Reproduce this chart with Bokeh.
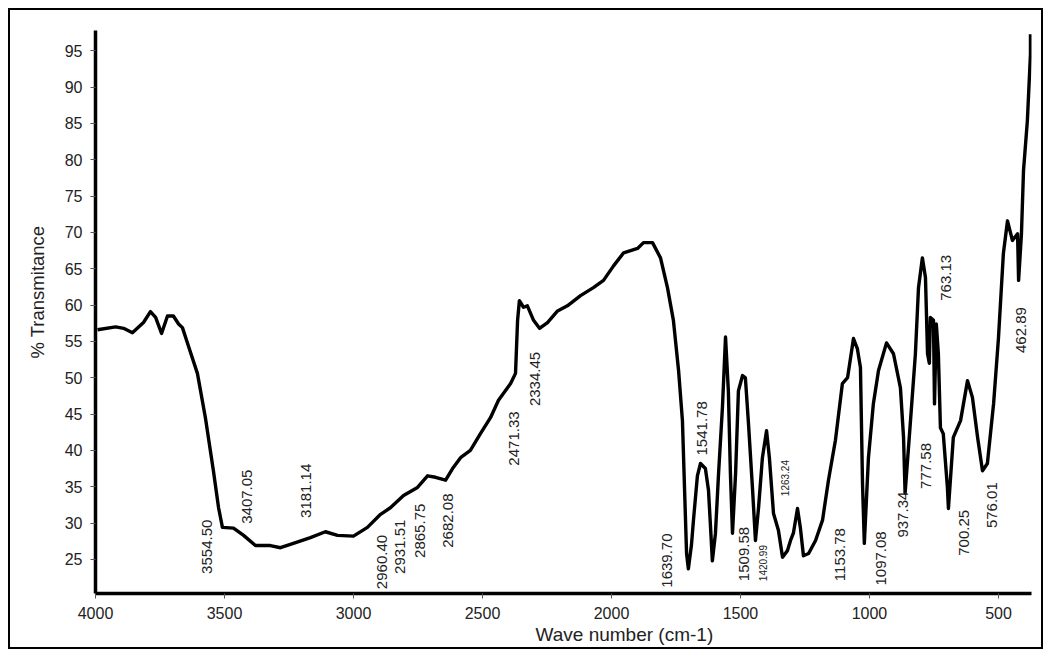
import math
from bokeh.plotting import figure
from bokeh.models import Range1d, FixedTicker, ColumnDataSource, Title
from bokeh.core.properties import value
from bokeh.embed import file_html
from bokeh.resources import INLINE

# ---- data ----
wavenumber = [3992, 3922, 3891, 3857, 3814, 3787, 3767, 3744, 3721, 3698, 3678, 3663,
              3643, 3605, 3574, 3543, 3523, 3508, 3465, 3426, 3380, 3322, 3283, 3233,
              3167, 3109, 3062, 3000, 2946, 2895, 2857, 2806, 2752, 2713, 2682, 2643,
              2616, 2585, 2547, 2508, 2469, 2438, 2391, 2372, 2364, 2357, 2341, 2326,
              2302, 2279, 2248, 2209, 2171, 2120, 2070, 2031, 1992, 1953, 1899, 1876,
              1841, 1810, 1783, 1760, 1740, 1725, 1717, 1709, 1702, 1690, 1682, 1667,
              1655, 1636, 1624, 1616, 1609, 1597, 1585, 1570, 1558, 1547, 1539, 1531,
              1519, 1508, 1492, 1481, 1469, 1453, 1442, 1430, 1415, 1399, 1388, 1372,
              1353, 1337, 1318, 1306, 1295, 1279, 1268, 1256, 1236, 1209, 1182, 1159,
              1132, 1105, 1085, 1062, 1047, 1035, 1027, 1020, 1004, 985, 965, 934,
              907, 880, 868, 862, 841, 822, 810, 795, 783, 775, 768, 764,
              752, 748, 741, 733, 725, 714, 698, 694, 675, 647, 620, 601,
              581, 562, 543, 519, 500, 481, 465, 446, 426, 422, 411, 403,
              388, 376, 376]
transmittance = [56.6, 57.0, 56.8, 56.2, 57.6, 59.1, 58.3, 56.1, 58.5, 58.5, 57.4, 56.9,
                 54.7, 50.6, 44.5, 37.2, 32.1, 29.4, 29.3, 28.3, 26.9, 26.9, 26.6, 27.2,
                 28.0, 28.8, 28.3, 28.2, 29.4, 31.2, 32.1, 33.8, 34.9, 36.5, 36.3, 35.9,
                 37.5, 39.0, 40.0, 42.3, 44.5, 46.9, 49.2, 50.6, 57.9, 60.6, 59.7, 59.9,
                 57.9, 56.8, 57.6, 59.2, 59.9, 61.3, 62.4, 63.4, 65.4, 67.2, 67.8, 68.6,
                 68.6, 66.5, 62.4, 57.9, 51.0, 44.1, 34.9, 25.8, 23.7, 27.0, 30.5, 36.5,
                 38.2, 37.5, 34.5, 29.4, 24.8, 28.6, 36.8, 45.9, 55.6, 48.2, 36.8, 28.6,
                 36.8, 48.2, 50.3, 50.0, 43.7, 34.5, 27.6, 32.1, 39.0, 42.7, 39.0, 31.3,
                 29.0, 25.3, 26.2, 27.6, 28.6, 32.0, 29.4, 25.5, 25.8, 27.6, 30.4, 35.9,
                 41.4, 49.2, 50.0, 55.4, 54.0, 51.4, 35.4, 27.2, 39.0, 46.4, 51.0, 54.8,
                 53.3, 48.6, 41.8, 34.1, 44.1, 53.3, 62.4, 66.5, 63.8, 53.3, 52.0, 58.3,
                 57.9, 46.4, 57.4, 53.3, 43.1, 42.3, 34.9, 32.0, 41.8, 44.1, 49.6, 47.3,
                 41.8, 37.2, 38.2, 46.4, 55.5, 67.1, 71.6, 68.9, 69.8, 63.4, 69.8, 78.5,
                 85.4, 94.6, 97.3]

peak_labels = ["3554.50", "3407.05", "3181.14", "2960.40", "2931.51", "2865.75",
               "2682.08", "2471.33", "2334.45", "1639.70", "1541.78", "1509.58",
               "1420.99", "1263.24", "1153.78", "1097.08", "937.34", "777.58",
               "763.13", "700.25", "576.01", "462.89"]
peak_label_x = [3566, 3411, 3186, 2891, 2818, 2744, 2632, 2376, 2295, 1783, 1651, 1485,
                1411, 1329, 1116, 957, 872, 779, 702, 632, 527, 411]
peak_label_y = [23.0, 29.9, 30.7, 20.9, 23.0, 25.2, 26.6, 37.9, 46.1, 21.1, 39.3, 22.0,
                22.0, 33.7, 22.0, 21.4, 28.0, 34.7, 60.6, 25.5, 29.3, 53.4]
small_labels = ["1420.99", "1263.24"]

x_ticks = [4000, 3500, 3000, 2500, 2000, 1500, 1000, 500]
y_ticks = [25, 30, 35, 40, 45, 50, 55, 60, 65, 70, 75, 80, 85, 90, 95]
x_title = "Wave number (cm-1)"
y_title = "% Transmitance"

FONT = "Liberation Sans"
INK = "#222222"

p = figure(width=1031, height=637, output_backend="svg", toolbar_location=None,
           x_range=Range1d(4000, 372), y_range=Range1d(20.3, 97.8),
           min_border_left=85, min_border_right=10, min_border_top=20,
           min_border_bottom=54)
p.styles = {"outline": "2px solid black", "position": "relative",
            "left": "10px", "top": "10px"}
p.outline_line_color = None
p.grid.visible = False
p.background_fill_color = "white"
p.border_fill_color = "white"

for ax in (p.xaxis, p.yaxis):
    ax.axis_line_width = 3.5
    ax.axis_line_color = "black"
    ax.major_tick_line_color = "#555555"
    ax.major_tick_line_width = 1
    ax.major_tick_in = 0
    ax.major_tick_out = 5
    ax.minor_tick_line_color = None
    ax.major_label_text_font = FONT
    ax.major_label_text_font_size = "16px"
    ax.major_label_text_color = INK
p.xaxis.ticker = FixedTicker(ticks=x_ticks)
p.yaxis.ticker = FixedTicker(ticks=y_ticks)
p.xaxis.major_label_standoff = 8
p.yaxis.major_label_standoff = 8

yt = Title(text=y_title, align="left", offset=235, vertical_align="bottom",
           text_font=FONT, text_font_size="18.5px", text_font_style="normal",
           text_color=INK, standoff=28)
p.add_layout(yt, "left")

xt = Title(text=x_title, align="left", offset=440, text_font=FONT,
           text_font_size="19px", text_font_style="normal", text_color=INK,
           standoff=0)
p.add_layout(xt, "below")

p.line(wavenumber, transmittance, line_color="black", line_width=3.4,
       line_join="round")

sizes = ["10px" if t in small_labels else "15px" for t in peak_labels]
src = ColumnDataSource(dict(x=peak_label_x, y=peak_label_y, text=peak_labels, size=sizes))
p.text(x="x", y="y", text="text", source=src, angle=math.pi / 2,
       text_align="left", text_baseline="middle", text_font=value(FONT),
       text_font_size="size", text_color=INK)

open("out.html", "w").write(file_html(p, INLINE))
